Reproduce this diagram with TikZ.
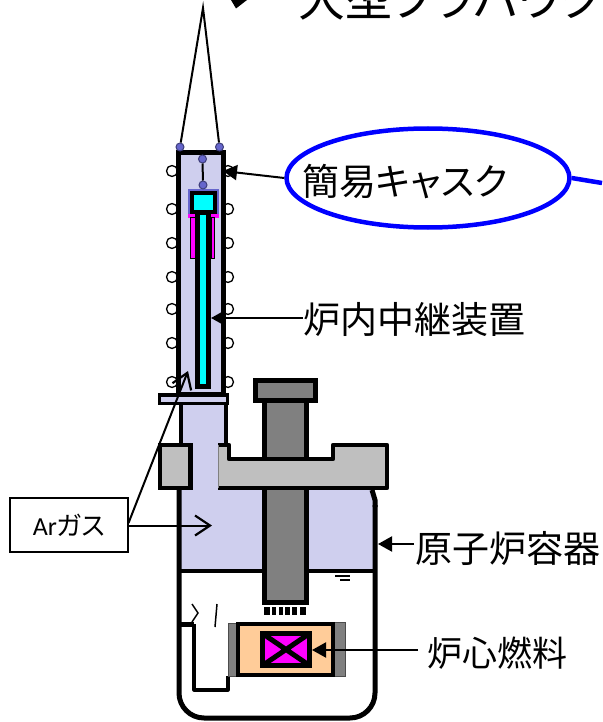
\documentclass[tikz,border=0pt]{standalone}
\usepackage{fontspec}
\setmainfont{Noto Sans CJK JP}[RawFeature=+palt]
\newfontfamily\arfont{Carlito}
\usetikzlibrary{arrows.meta,shapes.geometric}
\definecolor{lav}{HTML}{CFCFEE}
\definecolor{grayA}{HTML}{808080}
\definecolor{grayB}{HTML}{BFBFBF}
\definecolor{peach}{HTML}{FFCC99}
\definecolor{dotblue}{HTML}{6666CC}
\definecolor{pure}{HTML}{0000FF}
\definecolor{cyanx}{HTML}{00FFFF}
\definecolor{magx}{HTML}{FF00FF}
\tikzset{
  x=1pt,y=-1pt,
  wall/.style={draw=black,line width=5pt,line join=miter},
  lbl/.style={inner sep=0pt,font=\fontsize{37}{40}\selectfont},
  thinline/.style={draw=black,line width=2pt},
  ptr/.style={draw=black,line width=2pt,-{Triangle[length=14pt,width=15pt]}},
  barb/.style={draw=black,line width=2pt,-{Straight Barb[length=15pt,width=20pt,line width=2.2pt]}},
  dot/.style={circle,fill=dotblue,draw=black!40!dotblue,line width=1pt,minimum size=8pt,inner sep=0pt},
  coil/.style={circle,fill=white,draw=black,line width=1.3pt,minimum size=11pt,inner sep=0pt},
}
\begin{document}
\begin{tikzpicture}
\useasboundingbox (0,0) rectangle (602,722);
% heading (cut off by the page top)
\node[anchor=base west,inner sep=0pt,font=\fontsize{47}{50}\selectfont] (heading) at (298,17) {大型ブラパウク};
\fill (231,0) -- (247,0) -- (236,8.5) -- cycle;
% coils
\foreach \n/\yy in {a/171,b/209,c/243,d/277,e/309,f/343,g/382}{
  \node[coil] (cl\n) at (172,\yy) {};
  \node[coil] (cr\n) at (228,\yy) {};
}
% cask
\path[fill=lav,wall] (178,153) rectangle (223,394);
% wires
\coordinate (apex) at (203,8);
\node[dot] (wl) at (180,147) {};
\node[dot] (wr) at (219.5,147) {};
\draw[thinline] (wl) -- (apex) -- (wr);
% relay device
\fill[fill=magx] (188,213) rectangle (219,218);
\draw[fill=magx,draw=black,line width=.8pt] (190.5,217) rectangle (195.5,258);
\draw[fill=magx,draw=black,line width=.8pt] (211,217) rectangle (214.5,258);
\path[fill=cyanx,draw=black,line width=5pt] (197.5,212) rectangle (208.5,386.5);
\draw[draw=dotblue,line width=2pt] (188.5,189.5) rectangle (217.5,213);
\path[fill=cyanx,draw=black,line width=4pt] (191.5,192.5) rectangle (215,212);
\node[dot] (d1) at (202.5,159) {};
\node[dot] (d2) at (203,185) {};
\draw[thinline] (d1) -- (d2);
% vessel
\fill[lav] (179,489) -- (373,489) -- (375,500) -- (375,571) -- (179,571) -- cycle;
\fill[lav] (192,440) rectangle (218,490);
\draw[draw=black,line width=5pt,rounded corners=25pt] (179,489) -- (179,718) -- (375,718) -- (375,505);
\draw[draw=black,line width=5pt] (375,507) -- (375,500) -- (372,490);
\draw[draw=black,line width=3.2pt] (179,571) -- (375,571);
\draw[line width=1.5pt] (329,572) -- (350,572) (335,576) -- (350,576) (340,580) -- (350,580);
% rotating plug column
\path[fill=grayA,wall] (264,401) rectangle (306,602);
\path[fill=grayA,wall] (255.5,380.5) rectangle (315,400);
\foreach \xx/\ww in {264/5.5,271.5/4.5,278.5/4.5,285/4.5,291.5/5,300/5.5}{
  \fill (\xx,607) rectangle ++(\ww,8);
}
% neck and flange
\fill[lav] (181,404) rectangle (226,443);
\draw[draw=black,line width=4.5pt] (181,404) -- (181,444) (226,404) -- (226,444);
\path[fill=lav,draw=black,line width=3.5pt] (159.5,395) rectangle (227.5,403.5);
% plugs
\path[fill=grayB,draw=black,line width=4.5pt] (160,445) rectangle (190.5,488);
\fill[grayB] (218,445) -- (229,445) -- (229,459) -- (333,459) -- (333,445) -- (387,445) -- (387,488) -- (218,488) -- cycle;
\draw[draw=black,line width=4.5pt,line join=round] (218,445) -- (229,445) -- (229,459) -- (333,459) -- (333,445) -- (387,445) -- (387,488) -- (218,488);
\draw[grayA,line width=.8pt] (218,445) -- (218,488);
% upper column stays in front of the plug notch
\fill[grayA] (264,403) rectangle (306,457);
\draw[draw=black,line width=5pt] (264,401) -- (264,459) (306,401) -- (306,459);
% internal piping
\draw[draw=black,line width=5pt] (181,624.5) -- (194,624.5);
\draw[draw=black,line width=3.2pt,line join=round] (194,624) -- (194,690) -- (228,690) -- (228,676);
\draw[draw=black,line width=1.5pt] (192,604) -- (198,613) -- (192,622) (217,604) -- (215,627);
% core
\path[fill=grayA,draw=black!70,line width=1pt] (228.5,623) rectangle (238,676);
\path[fill=grayA,draw=black!70,line width=1pt] (333,622) rectangle (345.5,676);
\path[fill=peach,draw=black,line width=4pt] (238,624) rectangle (333,675);
\path[fill=magx,draw=black,line width=5.5pt] (262.5,633.5) rectangle (309.5,665.5);
\draw[draw=black,line width=5pt] (262.5,633.5) -- (309.5,665.5) (262.5,665.5) -- (309.5,633.5);
% Ar box
\node[draw=black,line width=2.2pt,fill=white,minimum width=118pt,minimum height=54pt,inner sep=0pt,font=\fontsize{26}{28}\selectfont] (ar) at (69,525) {{\arfont Ar}ガス};
\coordinate (argas1) at (188,371);
\coordinate (argas2) at (212,525.5);
\coordinate (arsrc1) at (128.5,523);
\draw[barb] (arsrc1) -- (argas1);
\draw[barb] (ar.east |- argas2) -- (argas2);
% labels
\node[lbl,anchor=west] (relay) at (303,320) {炉内中継装置};
\coordinate (relayp) at (211,318);
\draw[ptr] (303,318) -- (relayp);
\node[lbl,anchor=west] (vessel) at (415,548) {原子炉容器};
\coordinate (vesselp) at (378,544);
\draw[ptr] (414,544) -- (vesselp);
\node[lbl,anchor=west,font=\fontsize{35}{38}\selectfont] (fuel) at (427,653) {炉心燃料};
\coordinate (fuelp) at (312,650);
\draw[ptr] (418,650) -- (fuelp);
% callout
\node[ellipse,draw=pure,line width=4.5pt,minimum width=283pt,minimum height=99pt,inner sep=0pt] (bubble) at (428,178) {};
\node[lbl,anchor=west] (cask) at (302,182) {簡易キャスク};
\coordinate (caskp) at (223,171);
\coordinate (offr) at (602,183);
\draw[ptr] (bubble.west) -- (caskp);
\draw[draw=pure,line width=4.5pt] (bubble.east) -- (offr);
\end{tikzpicture}
\end{document}
